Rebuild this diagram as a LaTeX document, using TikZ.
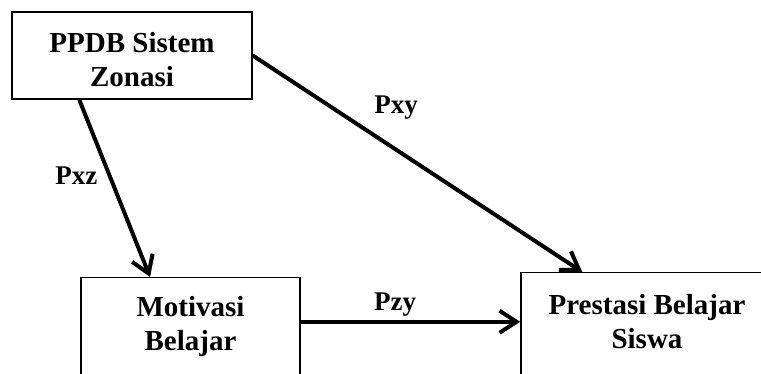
\documentclass[tikz,border=0pt]{standalone}
\usepackage{fontspec}
\setmainfont{Liberation Serif}
\usetikzlibrary{arrows.meta,positioning}

\begin{document}
\begin{tikzpicture}[
x=1pt, y=-1pt,
var/.style={draw, line width=1.5pt, align=center, inner sep=0pt, font=\bfseries\fontsize{29}{34.5}\selectfont},
lbl/.style={font=\bfseries\fontsize{27}{30}\selectfont},
arrow/.style={-{Straight Barb[length=17pt, width=22pt]}, line width=4pt}
]
\useasboundingbox (0,0) rectangle (761,374);
\clip (0,0) rectangle (761,374);

\node[var, minimum width=240pt, minimum height=87pt, text height=63pt, text depth=0pt] (zonasi) at (132,55.5) {PPDB Sistem\\Zonasi};
\node[var, anchor=north, minimum width=219pt, minimum height=123pt, text height=30pt, text depth=7pt] (motivasi) at (190.5,277) {Motivasi\\Belajar};
\node[var, anchor=north, minimum width=252pt, minimum height=128pt, text height=31pt, text depth=7pt] (prestasi) at (647,272) {Prestasi Belajar\\Siswa};

\draw[arrow] (zonasi.220) -- node[lbl, left=7pt, pos=0.43] {Pxz} (motivasi.123);
\draw[arrow] (zonasi.east) -- node[lbl, pos=0.34, above right=6pt] {Pxy} (prestasi.135);
\draw[arrow] (motivasi.9) -- node[lbl, pos=0.43, above] {Pzy} (motivasi.9 -| prestasi.west);
\end{tikzpicture}
\end{document}
